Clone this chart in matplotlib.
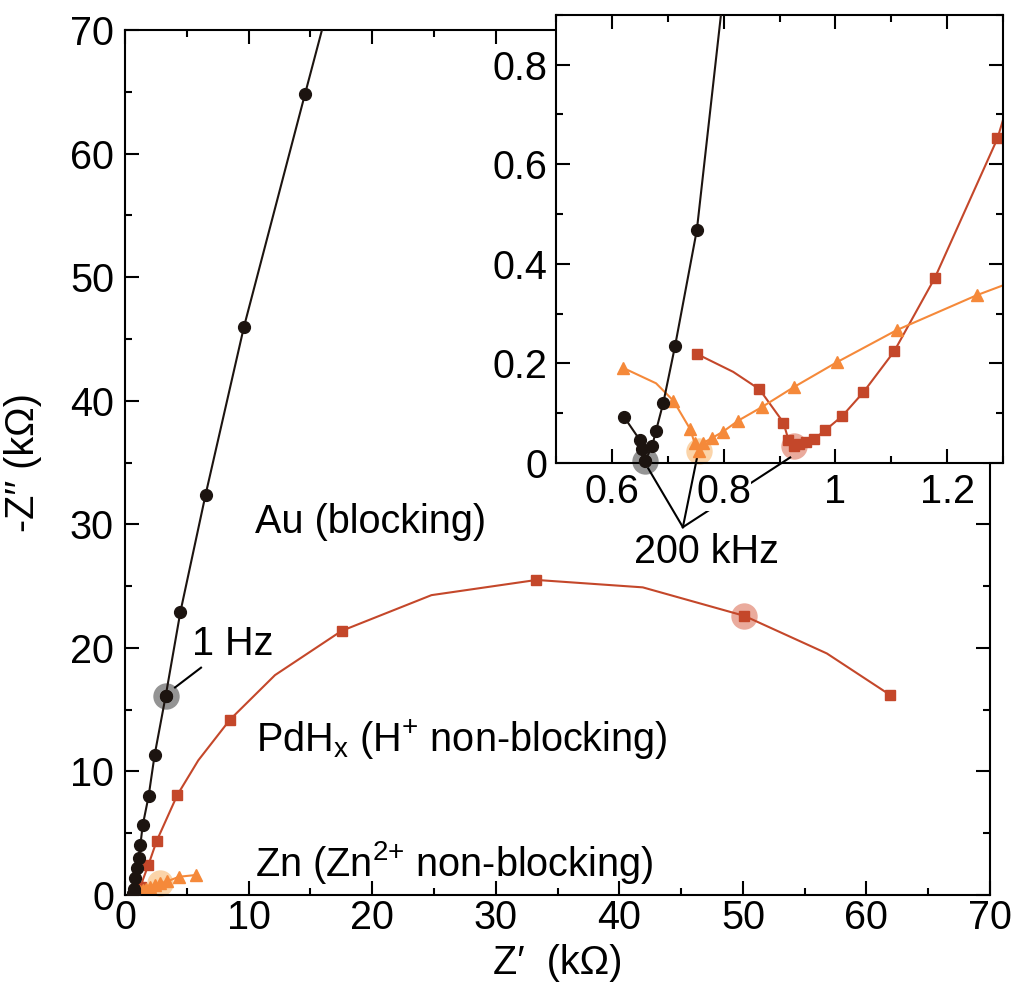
import matplotlib
matplotlib.use('Agg')
import matplotlib.pyplot as plt
from matplotlib.ticker import MultipleLocator

plt.rcParams['font.family'] = ['Liberation Sans', 'DejaVu Sans']
plt.rcParams['mathtext.default'] = 'regular'
plt.rcParams['font.size'] = 28.5

# impedance data, Z' and -Z'' in kOhm
au_x = [0.622, 0.650, 0.653, 0.659, 0.672, 0.679, 0.692, 0.713, 0.752, 0.84, 0.95,
        1.10, 1.24, 1.43, 1.91, 2.40, 3.29, 4.48, 6.52, 9.63, 14.56, 21.5]
au_y = [0.092, 0.046, 0.028, 0.003, 0.034, 0.065, 0.121, 0.235, 0.468, 1.35, 2.2,
        2.97, 4.02, 5.63, 8.0, 11.35, 16.1, 22.9, 32.4, 46.0, 64.8, 91.0]
au_hf = 3    # 200 kHz
au_lf = 16   # 1 Hz

pd_x = [0.752, 0.817, 0.864, 0.907, 0.916, 0.925, 0.935, 0.948, 0.962, 0.982,
        1.012, 1.050, 1.105, 1.178, 1.290, 1.45, 1.89, 2.56, 4.23, 5.93, 8.5,
        12.14, 17.53, 24.8, 33.3, 41.9, 50.1, 56.8, 61.9]
pd_y = [0.219, 0.183, 0.148, 0.081, 0.046, 0.034, 0.038, 0.042, 0.048, 0.066,
        0.094, 0.142, 0.224, 0.372, 0.652, 1.25, 2.43, 4.37, 8.09, 10.9, 14.2,
        17.8, 21.38, 24.27, 25.5, 24.9, 22.6, 19.55, 16.2]
pd_marked = [0, 2, 3, 4, 5, 6, 7, 8, 9, 10, 11, 12, 13, 14, 16, 17, 18, 20, 22, 24, 26, 28]
pd_hf = 5
pd_lf = 26

zn_x = [0.620, 0.679, 0.710, 0.740, 0.748, 0.755, 0.763, 0.779, 0.799, 0.826,
        0.868, 0.925, 1.002, 1.110, 1.253, 1.45, 1.70, 2.00, 2.40, 2.85, 3.40,
        4.37, 5.72]
zn_y = [0.191, 0.160, 0.125, 0.068, 0.040, 0.025, 0.040, 0.050, 0.063, 0.085,
        0.112, 0.152, 0.202, 0.267, 0.337, 0.42, 0.52, 0.66, 0.80, 0.95, 1.10,
        1.48, 1.62]
zn_marked = [0, 2, 3, 4, 5, 6, 7, 8, 9, 10, 11, 12, 13, 14, 15, 16, 17, 18, 19, 20, 21, 22]
zn_hf = 5
zn_lf = 19

c_au = '#1c1410'
c_pd = '#c4472a'
c_zn = '#f5893a'
hl_au = '#000000'
hl_pd = '#e8a292'
hl_zn = '#fbd0a0'


def draw(ax, hl_idx):
    # translucent discs first so the data sit on top
    ax.plot(au_x[hl_idx[0]], au_y[hl_idx[0]], 'o', ms=19, color=hl_au, alpha=0.42, mec='none',
            zorder=1, clip_on=False)
    ax.plot(pd_x[hl_idx[1]], pd_y[hl_idx[1]], 'o', ms=19, color=hl_pd, alpha=0.9, mec='none',
            zorder=1, clip_on=False)
    ax.plot(zn_x[hl_idx[2]], zn_y[hl_idx[2]], 'o', ms=19, color=hl_zn, alpha=0.9, mec='none',
            zorder=1, clip_on=False)
    ax.plot(pd_x, pd_y, '-s', color=c_pd, lw=1.5, ms=7.5, markevery=pd_marked, zorder=2)
    ax.plot(zn_x, zn_y, '-^', color=c_zn, lw=1.5, ms=9, markevery=zn_marked, zorder=2)
    ax.plot(au_x, au_y, '-o', color=c_au, lw=1.5, ms=8.5, zorder=3)
    # highlighted points can sit on the axis line, keep them whole
    ax.plot(au_x[hl_idx[0]], au_y[hl_idx[0]], 'o', color=c_au, ms=8.5, zorder=3, clip_on=False)


def style(ax, major, minor, padx, pady):
    ax.xaxis.set_major_locator(MultipleLocator(major))
    ax.xaxis.set_minor_locator(MultipleLocator(minor))
    ax.yaxis.set_major_locator(MultipleLocator(major))
    ax.yaxis.set_minor_locator(MultipleLocator(minor))
    ax.tick_params(which='both', direction='in', top=True, right=True, width=1.5)
    ax.tick_params(which='major', length=10)
    ax.tick_params(which='minor', length=5)
    ax.tick_params(axis='x', pad=padx)
    ax.tick_params(axis='y', pad=pady)
    for s in ax.spines.values():
        s.set_linewidth(1.5)


fig = plt.figure(figsize=(10.13, 9.89), dpi=100)

ax = fig.add_axes([0.1234, 0.0950, 0.8539, 0.8746])
draw(ax, (au_lf, pd_lf, zn_lf))
ax.set_xlim(0, 70)
ax.set_ylim(0, 70)
style(ax, 10, 5, 3, 8)
ax.set_xlabel('Z\u2032  (k\u03a9)', labelpad=5)
ax.set_ylabel('-Z\u2032\u2032 (k\u03a9)', labelpad=20)

ax.text(10.5, 29.3, 'Au (blocking)', va='baseline')
ax.text(10.6, 11.6, 'PdH$_x$ (H$^{{+}}$ non-blocking)', va='baseline')
ax.text(10.5, 1.55, 'Zn (Zn$^{2{+}}$ non-blocking)', va='baseline')
ax.text(5.4, 19.4, '1 Hz', va='baseline')
ax.plot([4.05, 6.15], [16.8, 18.4], color='black', lw=1.5)

# zoom on the high-frequency end
ins = fig.add_axes([0.5489, 0.5319, 0.4413, 0.4530])
ins.set_facecolor('white')
draw(ins, (au_hf, pd_hf, zn_hf))
ins.set_xlim(0.5, 1.3)
ins.set_ylim(0, 0.9)
style(ins, 0.2, 0.1, 7, 6)
ins.set_xticks([0.6, 0.8, 1.0, 1.2])
ins.set_xticklabels(['0.6', '0.8', '1', '1.2'])
ins.set_yticks([0, 0.2, 0.4, 0.6, 0.8])
ins.set_yticklabels(['0', '0.2', '0.4', '0.6', '0.8'])
for lab in ins.get_xticklabels():
    lab.set_bbox(dict(facecolor='white', edgecolor='none', pad=0))

apex = (0.727, -0.129)
for tx, ty in [(0.665, -0.011), (0.752, 0.009), (0.919, 0.011)]:
    ins.plot([apex[0], tx], [apex[1], ty], color='black', lw=1.5, clip_on=False, zorder=1.5)
ins.text(0.770, -0.201, '200 kHz', ha='center', va='baseline')

fig.savefig('out.png', dpi=100)
